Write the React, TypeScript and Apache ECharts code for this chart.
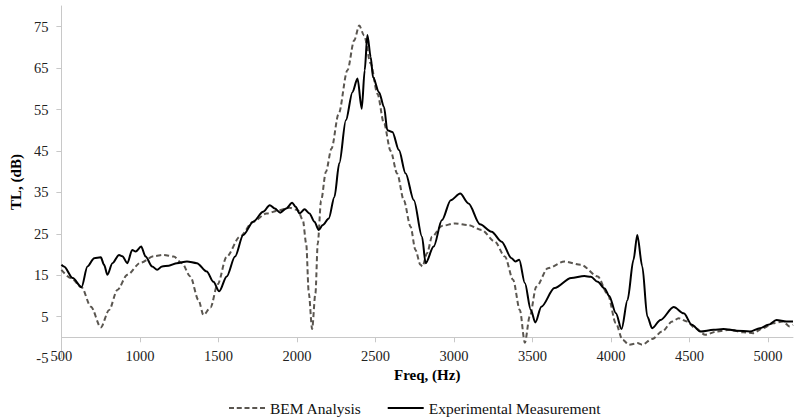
import React, { useEffect, useRef } from "react";
import * as echarts from "echarts";

const bemFreq = [500, 561, 628, 688, 751, 804, 856, 920, 1004, 1089, 1152, 1215, 1268, 1321, 1373, 1405, 1450, 1495, 1553, 1637, 1722, 1806, 1890, 1953, 2006, 2038, 2059, 2076, 2097, 2118, 2133, 2154, 2185, 2220, 2266, 2322, 2365, 2397, 2428, 2470, 2513, 2555, 2597, 2639, 2681, 2724, 2755, 2787, 2800, 2829, 2861, 2924, 3008, 3093, 3177, 3261, 3325, 3377, 3420, 3452, 3483, 3525, 3599, 3705, 3810, 3916, 3979, 4032, 4074, 4116, 4169, 4200, 4263, 4327, 4390, 4432, 4485, 4538, 4601, 4675, 4759, 4843, 4906, 4970, 5033, 5096, 5139, 5160];
const bemTL = [16.3, 14.3, 12.1, 7.4, 2.4, 6.6, 11.4, 15.1, 18.0, 19.6, 19.9, 19.5, 17.9, 14.7, 9.0, 5.4, 7.2, 12.8, 19.5, 24.3, 27.9, 29.9, 30.7, 31.3, 30.7, 28.3, 22.7, 10.6, 2.0, 10.6, 22.7, 33.0, 40.0, 45.5, 54.0, 64.5, 71.7, 75.3, 72.9, 66.1, 58.8, 51.6, 45.0, 39.5, 33.1, 26.7, 21.1, 17.5, 17.1, 20.3, 24.3, 26.9, 27.5, 27.1, 25.9, 23.1, 19.5, 13.9, 6.6, -1.3, 5.0, 12.2, 16.7, 18.3, 17.5, 14.7, 10.5, 3.4, -0.6, -1.8, -1.4, -1.8, -0.4, 1.4, 3.8, 4.6, 3.8, 2.2, 0.6, 1.4, 1.8, 1.2, 1.0, 2.2, 3.4, 3.8, 2.6, 3.0];

const expFreq = [500, 516, 572, 628, 666, 709, 751, 772, 793, 825, 867, 888, 920, 951, 973, 1008, 1036, 1078, 1110, 1141, 1184, 1236, 1300, 1363, 1426, 1468, 1505, 1553, 1606, 1658, 1722, 1785, 1827, 1859, 1894, 1932, 1970, 1992, 2017, 2049, 2080, 2112, 2139, 2165, 2203, 2239, 2270, 2312, 2354, 2386, 2413, 2432, 2449, 2470, 2485, 2523, 2555, 2576, 2608, 2650, 2692, 2745, 2797, 2820, 2871, 2924, 2980, 3040, 3093, 3166, 3240, 3304, 3367, 3392, 3416, 3452, 3490, 3519, 3557, 3641, 3747, 3831, 3873, 3916, 3960, 3989, 4032, 4068, 4106, 4144, 4168, 4200, 4232, 4263, 4316, 4400, 4464, 4516, 4569, 4654, 4717, 4801, 4886, 4949, 5002, 5055, 5118, 5160];
const expTL = [17.5, 17.1, 14.3, 12.1, 17.1, 19.1, 19.3, 17.5, 15.1, 17.9, 19.9, 19.6, 17.9, 21.1, 20.7, 21.9, 19.5, 17.1, 16.3, 17.1, 17.3, 17.9, 18.3, 17.9, 15.9, 13.4, 11.1, 14.7, 19.5, 24.7, 27.9, 30.3, 31.9, 31.1, 30.1, 31.1, 32.5, 31.5, 29.9, 30.9, 29.9, 27.9, 25.9, 27.1, 28.7, 33.9, 42.0, 52.4, 59.2, 62.5, 55.2, 64.5, 73.0, 67.7, 62.8, 59.2, 55.6, 50.0, 49.6, 45.2, 39.6, 33.1, 24.3, 17.9, 21.9, 28.3, 33.1, 34.7, 32.3, 27.3, 25.5, 23.1, 19.1, 18.3, 18.7, 13.1, 6.6, 3.6, 7.4, 11.9, 14.3, 14.8, 14.6, 13.4, 11.8, 10.0, 5.8, 2.0, 9.0, 18.7, 24.7, 17.1, 5.0, 2.2, 4.2, 7.3, 5.8, 3.0, 1.4, 1.8, 2.0, 1.6, 1.4, 2.2, 3.0, 4.2, 3.8, 3.8];

const xTicks = [500, 1000, 1500, 2000, 2500, 3000, 3500, 4000, 4500, 5000];
const yTicks = [-5, 5, 15, 25, 35, 45, 55, 65, 75];

const seriesNames = ["BEM Analysis", "Experimental Measurement"];

const FONT = "Liberation Serif";

export default function App() {
  const ref = useRef<HTMLDivElement>(null);
  useEffect(() => {
    if (!ref.current) return;
    const chart = echarts.init(ref.current, undefined, { renderer: "svg" });
    const pairs = (xs: number[], ys: number[]) => xs.map((x, i) => [x, ys[i]]);
    chart.setOption({
      animation: false,
      backgroundColor: "#ffffff",
      textStyle: { fontFamily: FONT },
      grid: { left: 57, right: 2, top: 6, bottom: 59, containLabel: false },
      legend: {
        top: 400,
        left: 229,
        padding: 0,
        itemGap: 26,
        itemWidth: 36,
        itemHeight: 2,
        textStyle: { fontFamily: FONT, fontSize: 15.5, color: "#111" },
        data: [
          { name: seriesNames[0], icon: "path://M0,0h5v2h-5zM7.75,0h5v2h-5zM15.5,0h5v2h-5zM23.25,0h5v2h-5zM31,0h5v2h-5z" },
          { name: seriesNames[1], icon: "path://M0,0h36v2h-36z" },
        ],
      },
      xAxis: {
        type: "value",
        min: 500,
        max: 5160,
        name: "Freq, (Hz)",
        nameLocation: "middle",
        nameGap: 7,
        nameTextStyle: { fontFamily: FONT, fontSize: 15, fontWeight: "bold", color: "#000" },
        axisLine: { onZero: true, lineStyle: { color: "#c8c8c8", width: 1 } },
        axisTick: { show: true, length: 5, lineStyle: { color: "#c8c8c8" }, customValues: xTicks },
        axisLabel: {
          fontFamily: FONT,
          fontSize: 14.5,
          color: "#222",
          margin: -10,
          customValues: xTicks,
          formatter: (v: number) => String(v),
        },
        splitLine: { show: false },
      },
      yAxis: {
        type: "value",
        min: -5,
        max: 80,
        name: "TL, (dB)",
        nameLocation: "middle",
        nameGap: 36,
        nameRotate: 90,
        nameTextStyle: { fontFamily: FONT, fontSize: 15, fontWeight: "bold", color: "#000" },
        axisLine: { show: true, lineStyle: { color: "#c8c8c8", width: 1 } },
        axisTick: { show: true, length: 5, lineStyle: { color: "#c8c8c8" }, customValues: yTicks },
        axisLabel: { fontFamily: FONT, fontSize: 14.5, color: "#222", margin: 13, customValues: yTicks },
        splitLine: { show: false },
      },
      series: [
        {
          name: seriesNames[0],
          type: "line",
          data: pairs(bemFreq, bemTL),
          smooth: 0.3,
          smoothMonotone: "x",
          symbol: "none",
          lineStyle: { color: "#5a5650", width: 2, type: [5, 3] },
          itemStyle: { color: "#5a5650" },
          z: 2,
        },
        {
          name: seriesNames[1],
          type: "line",
          data: pairs(expFreq, expTL),
          smooth: 0.3,
          smoothMonotone: "x",
          symbol: "none",
          lineStyle: { color: "#000000", width: 2 },
          itemStyle: { color: "#000000" },
          z: 3,
        },
      ],
    });
    return () => chart.dispose();
  }, []);
  return <div ref={ref} style={{ width: 795, height: 417, position: "absolute", left: 0, top: 0 }} />;
}
